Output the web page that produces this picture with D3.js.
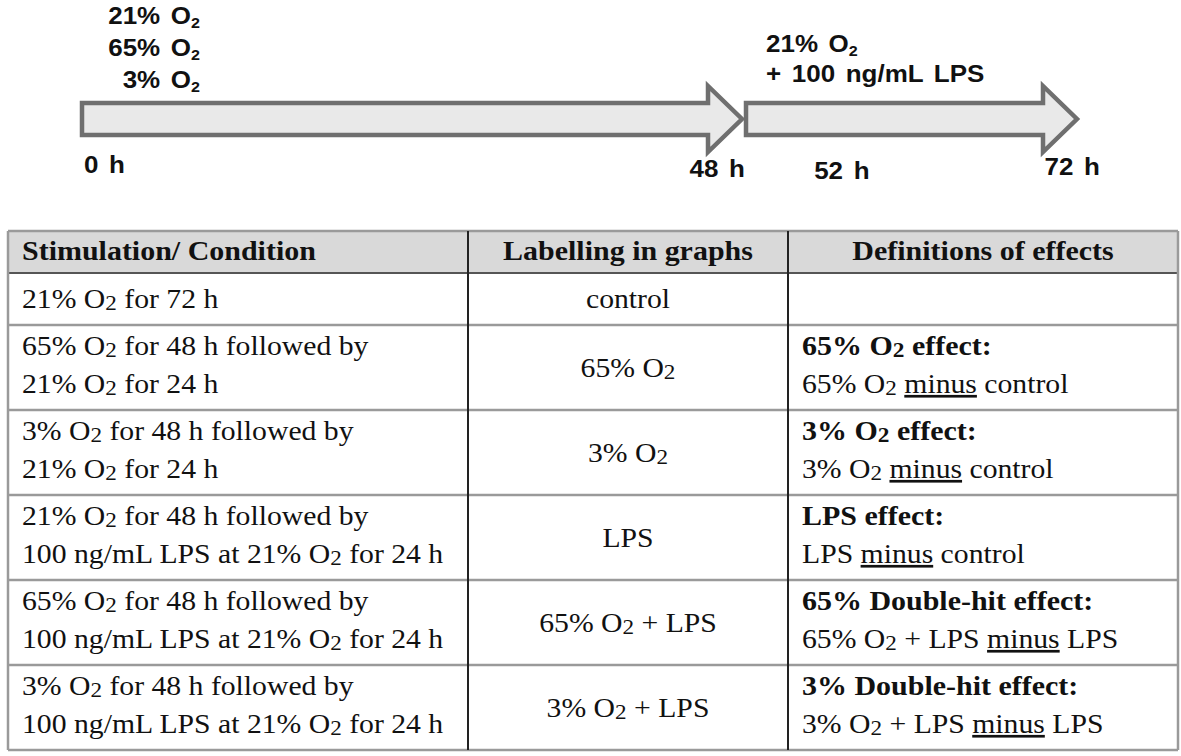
<!DOCTYPE html>
<html>
<head>
<meta charset="utf-8">
<script src="https://cdn.jsdelivr.net/npm/d3@7"></script>
<style>
  body { margin: 0; background: #fff; }
  svg { display: block; }
</style>
</head>
<body>
<div id="chart"></div>
<script>
// 时间轴数据
const arrowSegments = [[0, 48], [48, 72]];
const timeTicks = [0, 48, 52, 72];
const phase1Labels = ["21% O₂", "65% O₂", "3% O₂"];
const phase2Labels = ["21% O₂", "+ 100 ng/mL LPS"];

// 表格数据
const headers = ["Stimulation/ Condition", "Labelling in graphs", "Definitions of effects"];
const conditions = [
  ["21% O₂ for 72 h"],
  ["65% O₂ for 48 h followed by", "21% O₂ for 24 h"],
  ["3% O₂ for 48 h followed by", "21% O₂ for 24 h"],
  ["21% O₂ for 48 h followed by", "100 ng/mL LPS at 21% O₂ for 24 h"],
  ["65% O₂ for 48 h followed by", "100 ng/mL LPS at 21% O₂ for 24 h"],
  ["3% O₂ for 48 h followed by", "100 ng/mL LPS at 21% O₂ for 24 h"]
];
const graphLabels = ["control", "65% O₂", "3% O₂", "LPS", "65% O₂ + LPS", "3% O₂ + LPS"];
const effectNames = ["", "65% O₂ effect:", "3% O₂ effect:", "LPS effect:",
  "65% Double-hit effect:", "3% Double-hit effect:"];
const effectDefs = ["", "65% O₂ _minus_ control", "3% O₂ _minus_ control", "LPS _minus_ control",
  "65% O₂ + LPS _minus_ LPS", "3% O₂ + LPS _minus_ LPS"];

const W = 1181, H = 756;
const SANS = "'Liberation Sans', Arial, sans-serif";
const SERIF = "'Liberation Serif', 'Times New Roman', serif";

const svg = d3.select("#chart").append("svg")
  .attr("width", W).attr("height", H);

/**
 * 写入带下标 ₂ 和下划线 _word_ 的文本
 */
function richText(parent, x, y, str, o) {
  const t = parent.append("text")
    .attr("transform", `translate(${x},${y}) scale(${o.sx},1)`)
    .attr("text-anchor", o.anchor || "start")
    .style("font-family", o.family)
    .style("font-size", o.size + "px")
    .style("font-weight", o.weight || "normal")
    .style("fill", "#111")
    .style("white-space", "pre");
  const parts = str.split(/(₂|_[^_]+_)/).filter(s => s.length);
  let shifted = false;
  parts.forEach(p => {
    if (p === "₂") {
      t.append("tspan").attr("dy", o.subDy).style("font-size", o.subSize + "em").text("2");
      shifted = true;
    } else {
      const ts = t.append("tspan");
      if (shifted) { ts.attr("dy", -o.subDy); shifted = false; }
      if (p.startsWith("_")) {
        ts.style("text-decoration", "underline").text(p.slice(1, -1));
      } else {
        ts.text(p);
      }
    }
  });
  return t;
}

// ---------- 时间轴箭头 ----------
const xTime = d3.scaleLinear().domain([0, 48, 72]).range([82, 742, 1077]);
const axisY = 119, bodyHalf = 16, headHalf = 33, headLen = 34, gap = 4;

const arrowG = svg.append("g");
arrowSegments.forEach(([t0, t1], i) => {
  const x0 = xTime(t0) + (i > 0 ? gap : 0);
  const x1 = xTime(t1);
  const xb = x1 - headLen;
  const pts = [
    [x0, axisY - bodyHalf], [xb, axisY - bodyHalf], [xb, axisY - headHalf],
    [x1, axisY], [xb, axisY + headHalf], [xb, axisY + bodyHalf], [x0, axisY + bodyHalf]
  ];
  arrowG.append("path")
    .attr("d", d3.line()(pts) + "Z")
    .attr("fill", "#e9e9e9")
    .attr("stroke", "#6f6f6f")
    .attr("stroke-width", 4.5)
    .attr("stroke-linejoin", "miter");
});

const sansOpt = { family: SANS, size: 23, weight: "bold", subSize: 0.62, subDy: 4, sx: 1.13 };
phase1Labels.forEach((s, i) => {
  richText(svg, 200, 24 + i * 32, s, { ...sansOpt, anchor: "end" })
    .style("word-spacing", "3px");
});
phase2Labels.forEach((s, i) => {
  richText(svg, xTime(48) + 24, 52 + i * 30, s, sansOpt)
    .style("word-spacing", "3px");
});

// 时间刻度标签
const tickPlace = {
  0: { dx: 2, y: 173, anchor: "start" },
  48: { dx: 3, y: 177, anchor: "end" },
  52: { dx: 44, y: 179, anchor: "middle" },
  72: { dx: 23, y: 175, anchor: "end" }
};
timeTicks.forEach(t => {
  const p = tickPlace[t];
  richText(svg, xTime(t) + p.dx, p.y, `${t} h`, { ...sansOpt, anchor: p.anchor })
    .style("word-spacing", "3px");
});

// ---------- 表格 ----------
const tableLeft = 8, tableTop = 231;
const colWidths = [460, 320, 390];
const colEdges = [tableLeft, ...d3.cumsum(colWidths).map(d => d + tableLeft)];
const headerH = 42;
const rowHeights = conditions.map(c => c.length > 1 ? 85 : 52);
const rowEdges = [tableTop, tableTop + headerH,
  ...d3.cumsum(rowHeights).map(d => d + tableTop + headerH)];
const tableRight = colEdges[colEdges.length - 1];
const tableBottom = rowEdges[rowEdges.length - 1];

const tbl = svg.append("g");

tbl.append("rect")
  .attr("x", tableLeft).attr("y", tableTop)
  .attr("width", tableRight - tableLeft).attr("height", headerH)
  .attr("fill", "#d9d9d9");

// 横线
rowEdges.forEach((y, i) => {
  tbl.append("line")
    .attr("x1", tableLeft).attr("x2", tableRight)
    .attr("y1", y).attr("y2", y)
    .attr("stroke", i === 1 ? "#555" : "#9a9a9a")
    .attr("stroke-width", i === 1 ? 2 : 2.5);
});
// 竖线
colEdges.forEach((x, i) => {
  const outer = i === 0 || i === colEdges.length - 1;
  tbl.append("line")
    .attr("x1", x).attr("x2", x)
    .attr("y1", tableTop).attr("y2", tableBottom)
    .attr("stroke", outer ? "#9a9a9a" : "#222")
    .attr("stroke-width", outer ? 2.5 : 2);
});

const serifOpt = { family: SERIF, size: 27, subSize: 0.78, subDy: 2, sx: 1.1 };
const boldOpt = { ...serifOpt, weight: "bold", sx: 1.11 };
const padX = 14, lineGap = 38;

// 表头
headers.forEach((h, i) => {
  const x = i === 0 ? colEdges[0] + padX : (colEdges[i] + colEdges[i + 1]) / 2;
  richText(tbl, x, tableTop + 29, h, { ...boldOpt, anchor: i === 0 ? "start" : "middle" });
});

// 表体
conditions.forEach((lines, r) => {
  const top = rowEdges[r + 1], bot = rowEdges[r + 2];
  const mid = (top + bot) / 2;
  const first = lines.length > 1 ? top + 30 : mid + 9;

  lines.forEach((s, k) => {
    richText(tbl, colEdges[0] + padX, first + k * lineGap, s, serifOpt);
  });

  richText(tbl, (colEdges[1] + colEdges[2]) / 2, mid + 9, graphLabels[r],
    { ...serifOpt, anchor: "middle" });

  if (effectNames[r]) {
    richText(tbl, colEdges[2] + padX, first, effectNames[r], boldOpt);
    richText(tbl, colEdges[2] + padX, first + lineGap, effectDefs[r], serifOpt);
  }
});
</script>
</body>
</html>
